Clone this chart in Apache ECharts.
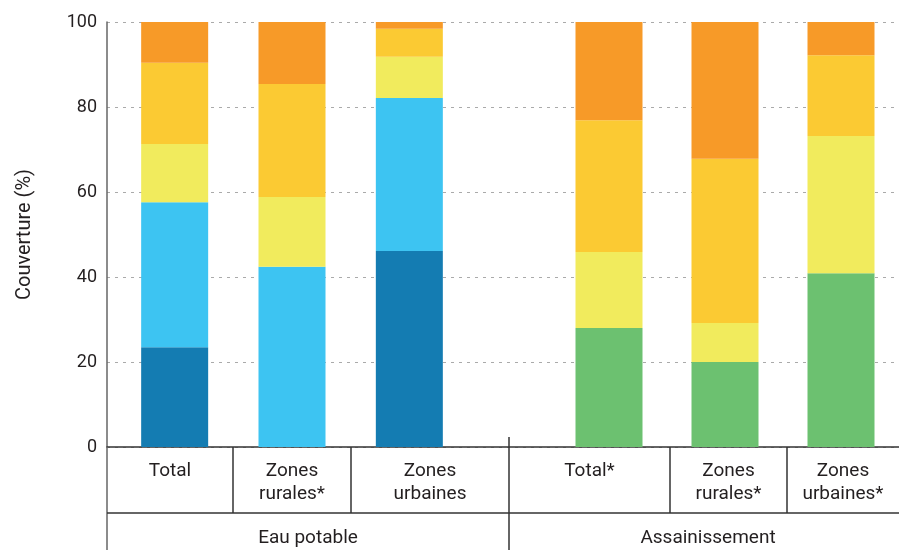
<!DOCTYPE html>
<html>
<head>
<meta charset="utf-8">
<script src="https://cdn.jsdelivr.net/npm/echarts@6/dist/echarts.min.js"></script>
<style>
  html, body { margin: 0; padding: 0; background: #fff; }
  #chart { width: 899px; height: 550px; }
</style>
</head>
<body>
<div id="chart"></div>
<script>
// categories
const eauCategories = ["Total", "Zones\nrurales*", "Zones\nurbaines"];
const assainCategories = ["Total*", "Zones\nrurales*", "Zones\nurbaines*"];
const groupNames = ["Eau potable", "Assainissement"];
const yTicks = [0, 20, 40, 60, 80, 100];

// Eau potable (bottom -> top)
const eauDark = [23.5, 0, 46.1];
const eauLight = [34.1, 42.4, 36.0];
const eauPale = [13.7, 16.4, 9.7];
const eauGold = [19.1, 26.6, 6.6];
const eauOrange = [9.6, 14.6, 1.6];

// Assainissement (bottom -> top)
const assainGreen = [28.0, 20.0, 40.9];
const assainPale = [17.9, 9.2, 32.3];
const assainGold = [31.0, 38.6, 19.0];
const assainOrange = [23.1, 32.2, 7.8];

const COLORS = {
  dark: "#147cb2",
  light: "#3dc4f2",
  green: "#6cc170",
  pale: "#f1eb5d",
  gold: "#fbca33",
  orange: "#f79a28",
};
const TEXT = "#231f20";
const FONT = "Roboto";

// layout of the table below the plot
const plotLeft = 107, plotTop = 22, axisY = 447, rowY = 513, bottomY = 550, rightX = 899;
const eauCells = [107, 233, 351, 509];
const assainCells = [509, 670, 787, 899];

function bar(name, data, color, grid) {
  return {
    name: name,
    type: "bar",
    stack: "s" + grid,
    xAxisIndex: grid,
    yAxisIndex: grid,
    barWidth: 67,
    data: data,
    itemStyle: { color: color },
    emphasis: { disabled: true },
  };
}

function line(x1, y1, x2, y2, color, w) {
  return {
    type: "line",
    shape: { x1: x1, y1: y1, x2: x2, y2: y2 },
    style: { stroke: color, lineWidth: w || 1.5 },
    z: 10,
  };
}

function label(text, x, y) {
  return {
    type: "text",
    style: {
      text: text, x: x, y: y,
      align: "center", verticalAlign: "top",
      font: "19px " + FONT, fill: TEXT, lineHeight: 23,
    },
    z: 10,
  };
}

let graphics = [
  line(plotLeft, axisY, plotLeft, bottomY, "#666"),
  line(plotLeft, rowY, rightX, rowY, "#333"),
  line(509, 437, 509, bottomY, "#333"),
];
[eauCells, assainCells].forEach(function (cells, g) {
  const cats = g === 0 ? eauCategories : assainCategories;
  for (let i = 1; i < cells.length - 1; i++) {
    graphics.push(line(cells[i], axisY, cells[i], rowY, "#333"));
  }
  for (let i = 0; i < cats.length; i++) {
    graphics.push(label(cats[i], (cells[i] + cells[i + 1]) / 2, 460));
  }
  graphics.push(label(groupNames[g], (cells[0] + cells[cells.length - 1]) / 2 + (g === 1 ? 4 : 0), 527));
});

const hiddenY = (i) => ({
  type: "value", gridIndex: i, min: 0, max: 100, interval: 20, show: false,
});
const hiddenX = (i, data) => ({
  type: "category", gridIndex: i, data: data, show: false,
});

const option = {
  animation: false,
  textStyle: { fontFamily: FONT },
  grid: [
    { left: plotLeft, right: 0, top: plotTop, bottom: 550 - axisY },
    { left: 116, width: 352, top: plotTop, bottom: 550 - axisY },
    { left: 551, width: 352, top: plotTop, bottom: 550 - axisY },
  ],
  xAxis: [
    {
      type: "category", gridIndex: 0, data: [""],
      axisLine: { show: true, lineStyle: { color: "#333", width: 1.5 } },
      axisTick: { show: false }, axisLabel: { show: false },
    },
    hiddenX(1, eauCategories),
    hiddenX(2, assainCategories),
  ],
  yAxis: [
    {
      type: "value", gridIndex: 0,
      min: yTicks[0], max: yTicks[yTicks.length - 1], interval: yTicks[1] - yTicks[0],
      name: "Couverture (%)",
      nameLocation: "middle",
      nameGap: 72,
      nameTextStyle: { fontSize: 20, color: TEXT, fontFamily: FONT },
      axisLine: { show: true, lineStyle: { color: "#666", width: 1.5 } },
      axisTick: { show: false },
      axisLabel: { fontSize: 18, color: TEXT, margin: 10, fontFamily: FONT },
      splitLine: { lineStyle: { color: "#aaa", type: [3, 5], width: 1 } },
    },
    hiddenY(1),
    hiddenY(2),
  ],
  series: [
    bar("dark", eauDark, COLORS.dark, 1),
    bar("light", eauLight, COLORS.light, 1),
    bar("pale", eauPale, COLORS.pale, 1),
    bar("gold", eauGold, COLORS.gold, 1),
    bar("orange", eauOrange, COLORS.orange, 1),
    bar("green", assainGreen, COLORS.green, 2),
    bar("pale", assainPale, COLORS.pale, 2),
    bar("gold", assainGold, COLORS.gold, 2),
    bar("orange", assainOrange, COLORS.orange, 2),
  ],
  graphic: graphics,
};

const chart = echarts.init(document.getElementById("chart"));
chart.setOption(option);
</script>
</body>
</html>
